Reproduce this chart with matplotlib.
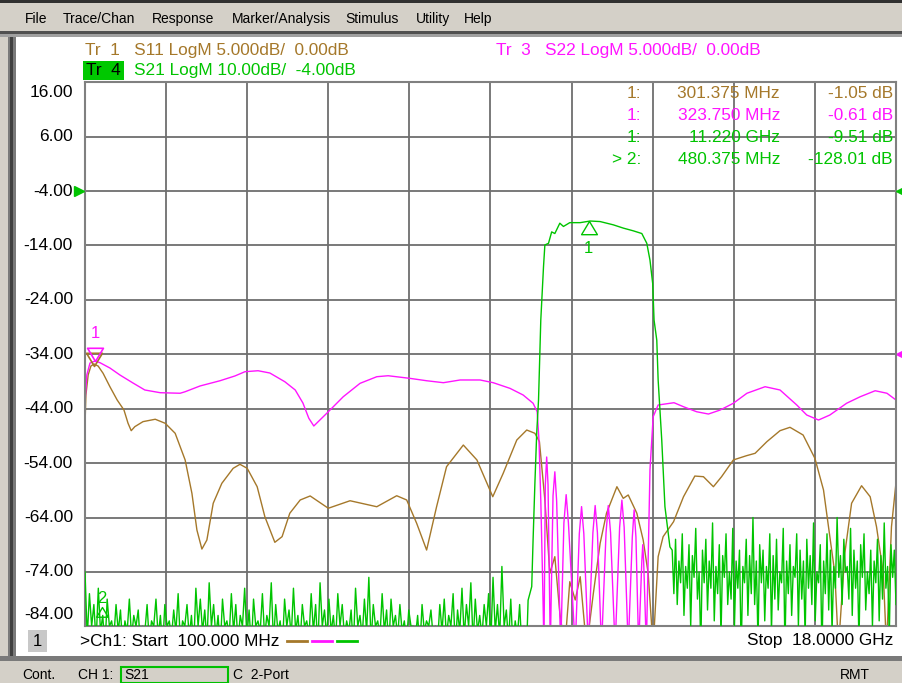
import numpy as np
import matplotlib.pyplot as plt
from matplotlib.path import Path
from matplotlib.patches import Rectangle
import matplotlib.transforms as mtransforms

plt.rcParams['font.family'] = ['Liberation Sans', 'DejaVu Sans']

W, H = 902, 683

BROWN = '#A5782A'
MAGENTA = '#FF14FF'
GREEN = '#00C400'
GRID = '#6E6E6E'
MENU = '#D4D0C8'

# sweep and scales
f_start, f_stop = 0.1, 18.0          # GHz
s21_top, s21_bottom = 16.0, -84.0    # Tr 4, 10 dB/div, ref -4 dB
s_refl_lim = (-25.0, 25.0)           # Tr 1 / Tr 3, 5 dB/div, ref 0 dB
y_labels = ['16.00', '6.00', '-4.00', '-14.00', '-24.00', '-34.00',
            '-44.00', '-54.00', '-64.00', '-74.00', '-84.00']

# S11 (brown) in dB
s11_f = [0.10, 0.12, 0.17, 0.23, 0.30, 0.39, 0.50, 0.65, 0.81, 0.96, 1.05, 1.12, 1.20,
         1.38, 1.65, 1.87, 2.09, 2.31, 2.46, 2.57, 2.68, 2.79, 2.93, 3.12, 3.37, 3.52,
         3.68, 3.90, 4.07, 4.29, 4.45, 4.62, 4.85, 5.07, 5.47, 5.95, 6.54, 6.98, 7.20,
         7.42, 7.64, 7.86, 8.08, 8.45, 8.75, 9.10, 9.33, 9.63, 9.85, 10.03, 10.13,
         10.25, 10.36, 10.47, 10.58, 10.69, 10.80, 10.92, 11.03, 11.17, 11.32, 11.47,
         11.61, 11.84, 11.98, 12.09, 12.28, 12.42, 12.53, 12.64, 12.75, 12.86, 13.09,
         13.31, 13.56, 13.75, 13.97, 14.15, 14.41, 14.70, 14.89, 15.15, 15.44, 15.66,
         15.95, 16.21, 16.40, 16.51, 16.65, 16.73, 16.87, 17.02, 17.24, 17.43, 17.57,
         17.72, 17.79, 17.90, 18.00]
s11_db = [-6.50, -3.74, -1.90, -1.08, -0.89, -1.08, -1.75, -2.98, -4.20, -5.12, -6.34,
          -7.02, -6.65, -6.19, -5.97, -6.34, -7.26, -9.71, -12.78, -16.15, -17.90, -17.07,
          -13.69, -11.86, -10.48, -10.11, -10.48, -12.17, -14.93, -17.28, -16.76, -14.61,
          -13.39, -13.02, -14.15, -13.46, -14.01, -13.00, -13.39, -15.53, -17.99, -14.01,
          -10.33, -8.34, -9.71, -13.09, -10.94, -7.88, -6.96, -7.26, -8.03,
          -13.39, -20.13, -18.60, -23.78, -27.0, -20.90, -22.58, -20.44, -27.0, -21.97,
          -17.37, -14.61, -12.17, -13.24, -12.93, -14.61, -17.07, -20.13, -27.0, -18.60,
          -16.76, -15.39, -13.09, -11.19, -11.25, -12.17, -11.25, -9.71, -9.32, -9.10,
          -8.03, -7.02, -6.71, -7.42, -9.56, -12.47, -15.85, -20.13, -27.0, -18.29,
          -13.69, -12.08, -13.09, -15.85, -20.13, -27.0, -15.85, -11.80]

# S22 (magenta) in dB
s22_f = [0.10, 0.14, 0.21, 0.32, 0.43, 0.65, 0.87, 1.16, 1.42, 1.76, 2.20, 2.31, 2.64,
         3.08, 3.41, 3.63, 3.92, 4.18, 4.51, 4.74, 4.91, 5.04, 5.15, 5.47, 5.80, 6.17,
         6.54, 6.79, 7.27, 7.64, 8.01, 8.38, 8.82, 9.11, 9.48, 9.77, 9.99, 10.08, 10.12,
         10.16, 10.20, 10.23, 10.26, 10.29, 10.32, 10.37, 10.43, 10.47, 10.51, 10.60,
         10.67, 10.72, 10.77, 10.92, 11.01, 11.06, 11.11, 11.21, 11.31, 11.36, 11.41,
         11.50, 11.60, 11.65, 11.70, 11.80, 11.90, 11.95, 12.00, 12.09, 12.18, 12.22,
         12.26, 12.32, 12.39, 12.41, 12.43, 12.49, 12.57, 12.64, 12.75, 13.10, 13.31,
         13.60, 13.86, 14.12, 14.41, 14.71, 15.11, 15.44, 15.81, 16.03, 16.29, 16.54,
         16.91, 17.21, 17.54, 17.80, 18.00]
s22_db = [-4.48, -1.90, -0.80, -0.62, -0.77, -1.26, -1.90, -2.64, -3.28, -3.53, -3.58,
          -3.44, -2.91, -2.43, -1.99, -1.60, -1.51, -1.72, -2.52, -3.28, -4.48, -5.88,
          -6.59, -5.28, -3.90, -2.67, -2.06, -1.97, -2.21, -2.43, -2.61, -2.36, -2.36,
          -2.61, -3.13, -3.74, -4.50, -5.28, -7.88,
          -13.4, -20.7, -27.0, -12.0, -9.44, -12.0, -27.0, -13.0, -10.8, -13.5, -27.0,
          -15.5, -12.9, -15.5, -27.0, -16.5, -14.0, -16.5, -27.0, -16.4, -13.9, -16.4,
          -27.0, -16.4, -13.9, -16.4, -27.0, -15.9, -13.4, -15.9, -27.0, -16.8, -14.3,
          -16.8, -27.0, -19.0, -17.5, -19.0, -27.0, -10.6, -5.74, -4.66, -4.45, -4.82,
          -5.28, -5.49, -5.12, -4.50, -3.58, -2.98, -3.28, -4.66, -5.58, -6.04, -5.58,
          -4.50, -3.90, -3.35, -3.58, -4.20]

# S21 (green) in dB: lower stopband noise, passband, upper stopband noise
s21_low_noise = [
    -74, -86, -78, -84, -80, -87, -77, -85, -82, -88, -79, -84, -83, -86, -80, -85, -81, -88, -83, -85,
    -79, -86, -82, -84, -81, -88, -84, -85, -80, -87, -83, -84, -79, -86, -82, -88, -80, -84, -83, -86,
    -81, -85, -78, -87, -83, -84, -80, -86, -82, -88, -77, -84, -79, -85, -81, -87, -76, -84, -80, -86,
    -82, -88, -79, -84, -83, -86, -78, -85, -80, -87, -82, -84, -77, -86, -81, -88, -79, -84, -83, -85,
    -78, -86, -82, -84, -76, -87, -80, -85, -83, -88, -79, -84, -81, -86, -77, -85, -82, -87, -80, -84,
    -83, -86, -78, -85, -80, -88, -76, -84, -81, -86, -79, -85, -82, -87, -78, -84, -80, -86, -83, -85,
    -81, -88, -77, -84, -82, -86, -79, -85, -75, -87, -80, -84, -83, -86, -78, -85, -81, -88, -79, -84,
    -82, -86, -80, -85, -83, -87, -81, -84, -84, -86, -82, -88, -80, -85, -83, -84, -81, -86, -84, -87,
    -80, -85, -79, -86, -82, -84, -78, -88, -81, -85, -77, -86, -80, -84, -76, -87, -79, -85, -82, -86,
    -80, -84, -78, -87, -75, -85, -80, -86, -73, -84, -81, -87, -79, -88, -83, -86, -80, -88, -84, -90]
s21_band_f = [9.88, 9.96, 9.99, 10.03, 10.07, 10.11, 10.16, 10.22, 10.25, 10.33, 10.40,
              10.47, 10.58, 10.66, 10.80, 11.03, 11.25, 11.47, 11.76, 11.98, 12.20,
              12.39, 12.50, 12.57, 12.63, 12.66, 12.72, 12.75, 12.83, 12.90, 13.01]
s21_band_db = [-79.2, -76.7, -68.1, -57.7, -48.5, -42.4, -27.7, -17.9, -13.9, -13.6,
               -11.5, -11.8, -9.9, -10.5, -9.8, -9.8, -9.5, -9.6, -10.2, -10.8, -11.3,
               -11.8, -13.6, -16.7, -21.0, -27.7, -31.4, -38.7, -49.8, -62.0, -69.4]
s21_high_noise = [
    -70, -78, -68, -80, -72, -76, -67, -82, -73, -77, -69, -84, -71, -75, -66, -79, -74, -88, -70, -76,
    -68, -81, -72, -77, -65, -83, -73, -78, -69, -86, -71, -75, -67, -80, -74, -79, -66, -84, -72, -77,
    -70, -89, -73, -76, -68, -82, -71, -78, -64, -80, -72, -87, -69, -76, -70, -83, -73, -77, -67, -85,
    -71, -79, -68, -81, -74, -76, -66, -88, -72, -78, -69, -82, -73, -75, -67, -84, -70, -79, -72, -86,
    -68, -77, -71, -80, -65, -83, -74, -76, -69, -89, -72, -78, -67, -81, -70, -85, -73, -77, -64, -75,
    -71, -80, -68, -74, -73, -79, -66, -82, -70, -77, -72, -87, -69, -75, -67, -81, -74, -78, -70, -84,
    -72, -76, -68, -83, -71, -79, -65, -77, -73, -86, -69, -75, -70, -80]

# markers
m_s11 = (0.301375, -1.05)
m_s22 = (0.32375, -0.61)
m_s21_1 = (11.220, -9.51)
m_s21_2 = (0.480375, -128.01)
marker_rows = [('1:', '301.375 MHz', '-1.05 dB', BROWN),
               ('1:', '323.750 MHz', '-0.61 dB', MAGENTA),
               ('1:', '11.220 GHz', '-9.51 dB', GREEN),
               ('> 2:', '480.375 MHz', '-128.01 dB', GREEN)]
menu_items = ['File', 'Trace/Chan', 'Response', 'Marker/Analysis', 'Stimulus', 'Utility', 'Help']
menu_x = [25, 63, 152, 232, 345, 416, 464]


def fx(x):
    return x / W


def fy(y):
    return 1 - y / H


def rect(fig, x0, y0, x1, y1, **kw):
    fig.add_artist(Rectangle((fx(x0), fy(y1)), (x1 - x0) / W, (y1 - y0) / H,
                             transform=fig.transFigure, **kw))


fig = plt.figure(figsize=(W / 100, H / 100), dpi=100)
fig.patch.set_facecolor('white')

# window chrome
rect(fig, 0, 0, W, 33, facecolor=MENU, edgecolor='none')
rect(fig, 0, 0, W, 3, facecolor='#303030', edgecolor='none')
rect(fig, 0, 31, W, 34, facecolor='#505050', edgecolor='none')
rect(fig, 0, 34, W, 37, facecolor='#A0A0A0', edgecolor='none')
rect(fig, 0, 37, 8, 660, facecolor=MENU, edgecolor='none')
rect(fig, 8, 37, 16, 660, facecolor='#7A7A7A', edgecolor='none')
rect(fig, 10, 37, 13, 660, facecolor='#404040', edgecolor='none')
rect(fig, 0, 656, W, 661, facecolor='#7A7A7A', edgecolor='none')
rect(fig, 0, 661, W, H, facecolor=MENU, edgecolor='none')
for name, x in zip(menu_items, menu_x):
    fig.text(fx(x), fy(19), name, fontsize=10, va='center', ha='left', color='black')

# plot area
ax = fig.add_axes([fx(85), fy(626.3), (896 - 85) / W, (626.3 - 82.3) / H])
ax.set_xlim(f_start, f_stop)
ax.set_ylim(*s_refl_lim)
ax.set_xticks(np.linspace(f_start, f_stop, 11))
ax.set_yticks(np.linspace(s_refl_lim[0], s_refl_lim[1], 11))
ax.grid(True, color=GRID, lw=1.3)
ax.tick_params(length=0, labelleft=False, labelbottom=False)
for sp in ax.spines.values():
    sp.set_color('#808080')
    sp.set_linewidth(1.5)

ax.plot(s11_f, s11_db, color=BROWN, lw=1.0)
ax.plot(s22_f, s22_db, color=MAGENTA, lw=1.0)

axg = ax.twinx()
axg.set_ylim(s21_bottom, s21_top)
axg.tick_params(length=0, labelright=False)
for sp in axg.spines.values():
    sp.set_visible(False)

low_f = np.linspace(f_start, 9.84, len(s21_low_noise))
high_f = np.linspace(13.06, f_stop, len(s21_high_noise))
s21_f = np.concatenate([low_f, s21_band_f, high_f])
s21_db = np.concatenate([s21_low_noise, s21_band_db, s21_high_noise])
axg.plot(s21_f, s21_db, color=GREEN, lw=1.0)

# marker symbols: triangles with the tip on the trace
tri_down = Path([(-0.6, 1), (0.6, 1), (0, 0), (-0.6, 1)], closed=True)
tri_up = Path([(-0.6, -1), (0.6, -1), (0, 0), (-0.6, -1)], closed=True)
ax.plot(*m_s11, marker=tri_down, ms=19, mfc='none', mec=BROWN, mew=1.2, clip_on=False)
ax.plot(*m_s22, marker=tri_down, ms=19, mfc='none', mec=MAGENTA, mew=1.2, clip_on=False)
ax.text(m_s22[0], m_s22[1] + 1.8, '1', color=MAGENTA, fontsize=12, ha='center', va='bottom')
axg.plot(*m_s21_1, marker=tri_up, ms=19, mfc='none', mec=GREEN, mew=1.0)
axg.text(m_s21_1[0], m_s21_1[1] - 3.6, '1', color=GREEN, fontsize=12, ha='center', va='top')
m2_y = max(m_s21_2[1], s21_bottom + 3.6)
axg.plot(m_s21_2[0], m2_y, marker=tri_up, ms=14, mfc='none', mec=GREEN, mew=1.0)
axg.text(m_s21_2[0], m2_y + 0.2, '2', color=GREEN, fontsize=12, ha='center', va='bottom')

# reference level arrows
axg.plot(-0.008, -4, marker='>', ms=7, color=GREEN, clip_on=False,
         transform=mtransforms.blended_transform_factory(axg.transAxes, axg.transData))
axg.plot(1.006, -4, marker='<', ms=7, color=GREEN, clip_on=False,
         transform=mtransforms.blended_transform_factory(axg.transAxes, axg.transData))
ax.plot(1.006, 0, marker='<', ms=7, color=MAGENTA, clip_on=False,
        transform=mtransforms.blended_transform_factory(ax.transAxes, ax.transData))

# y labels (Tr 4 scale)
tr = mtransforms.blended_transform_factory(fig.transFigure, axg.transData)
for i, lab in enumerate(y_labels):
    yv = s21_top - 10 * i
    if i == 0:
        yv -= 1.8
    if i == len(y_labels) - 1:
        yv += 2.2
    axg.text(fx(73), yv, lab, transform=tr, ha='right', va='center', fontsize=12.5,
             color='black', clip_on=False)

# trace headers
fig.text(fx(85), fy(50), 'Tr  1   S11 LogM 5.000dB/  0.00dB', color=BROWN, fontsize=12.4, va='center')
fig.text(fx(496), fy(50), 'Tr  3   S22 LogM 5.000dB/  0.00dB', color=MAGENTA, fontsize=12.4, va='center')
rect(fig, 83, 61, 124, 80, facecolor='#00C800', edgecolor='none')
fig.text(fx(86), fy(70.5), 'Tr  4', color='black', fontsize=12.4, va='center')
fig.text(fx(134), fy(70.5), 'S21 LogM 10.00dB/  -4.00dB', color=GREEN, fontsize=12.4, va='center')

# marker readout table
row_y = [94, 116, 137.5, 159]
for (num, freq, val, col), y in zip(marker_rows, row_y):
    fig.text(fx(641), fy(y), num, color=col, fontsize=12.4, ha='right', va='center')
    fig.text(fx(780), fy(y), freq, color=col, fontsize=12.4, ha='right', va='center')
    fig.text(fx(893), fy(y), val, color=col, fontsize=12.4, ha='right', va='center')

# channel line
rect(fig, 28, 630, 47, 652, facecolor='#C8C8C8', edgecolor='none')
fig.text(fx(37.5), fy(641), '1', fontsize=12, ha='center', va='center')
fig.text(fx(80), fy(641), '>Ch1: Start  100.000 MHz', fontsize=12.4, va='center')
for x0, col in zip([287, 312, 337], [BROWN, MAGENTA, GREEN]):
    fig.add_artist(plt.Line2D([fx(x0), fx(x0 + 20)], [fy(641), fy(641)], color=col, lw=2,
                              transform=fig.transFigure))
fig.text(fx(893), fy(641), 'Stop  18.0000 GHz', fontsize=12.4, ha='right', va='center')

# status bar
fig.text(fx(22), fy(675), 'Cont.', fontsize=10, va='center')
fig.text(fx(78), fy(675), 'CH 1:', fontsize=10, va='center')
rect(fig, 121, 667, 228, 683, facecolor='none', edgecolor='#00C000', lw=1.5)
fig.text(fx(124), fy(675), 'S21', fontsize=10, va='center')
fig.text(fx(233), fy(675), 'C  2-Port', fontsize=10, va='center')
fig.text(fx(840), fy(675), 'RMT', fontsize=10, va='center')

fig.savefig('out.png', dpi=100)
